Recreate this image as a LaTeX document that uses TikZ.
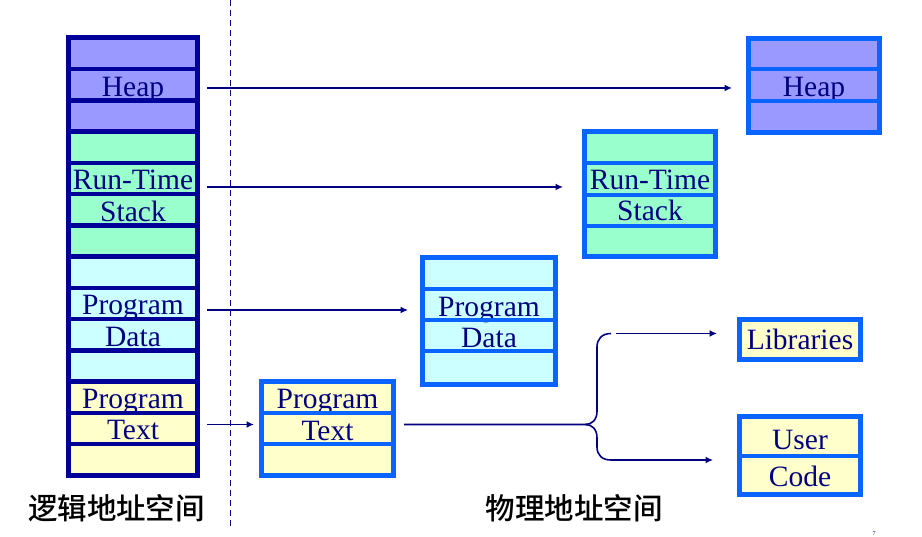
\documentclass[tikz,border=0pt]{standalone}
\usepackage{fontspec}
\setmainfont{Liberation Serif}
\newfontfamily\cjk{Noto Sans CJK SC Medium}
\usetikzlibrary{arrows.meta}
\definecolor{heapc}{HTML}{9999FF}
\definecolor{stackc}{HTML}{99FFCC}
\definecolor{datac}{HTML}{CCFFFF}
\definecolor{textc}{HTML}{FFFFCC}
\definecolor{navy}{HTML}{000099}
\definecolor{txtc}{HTML}{000080}
\definecolor{bright}{HTML}{0A64FF}
\begin{document}
\begin{tikzpicture}[x=1pt,y=-1pt,
  lbl/.style={font=\fontsize{29.5}{30}\selectfont, text=txtc, anchor=base, inner sep=0pt},
  cjklbl/.style={font=\cjk\fontsize{29.5}{30}\selectfont, text=black, inner sep=0pt},
  rbox/.style={draw=bright, line width=5pt, inner sep=0pt, fill=none},
  lsep/.style={navy, line width=4.5pt},
  rsep/.style={bright, line width=4.5pt},
  conn/.style={draw=txtc, line width=1.6pt},
  arr/.style={conn, -{Latex[length=7.5pt,width=7pt]}}]
\useasboundingbox (0,0) rectangle (922,537);

% dashed divider
\coordinate (dtop) at (230.5,0);
\coordinate (dbot) at (230.5,527);
\draw[txtc, line width=1pt, dash pattern=on 6pt off 4pt] (dtop) -- (dbot);

% ---------- left column ----------
\foreach \i/\c in {0/heapc,1/heapc,2/heapc,3/stackc,4/stackc,5/stackc,6/stackc,
                   7/datac,8/datac,9/datac,10/datac,11/textc,12/textc,13/textc}
  \fill[\c] (68.5,{37.8+\i*31.26}) rectangle (197.5,{37.8+(\i+1)*31.26});
\node[lbl] (lheap) at (133,96.7) {Heap};
\node[lbl] (lrun) at (133,189.3) {Run-Time};
\node[lbl] (lstack) at (133,221.7) {Stack};
\node[lbl] (lprog1) at (133,315) {Program};
\node[lbl] (ldata) at (133,346.7) {Data};
\node[lbl] (lprog2) at (133,408.3) {Program};
\node[lbl] (ltext) at (133,440) {Text};
\foreach \i in {1,...,13}
  \draw[lsep] (68.5,{37.8+\i*31.26}) -- (197.5,{37.8+\i*31.26});
\node[draw=navy, line width=5pt, inner sep=0pt, minimum width=129pt, minimum height=437.6pt] (lcol) at (133,256.6) {};

% ---------- right heap ----------
\fill[heapc] (748.5,38.5) rectangle (879.5,132.5);
\node[lbl] (rheapt) at (814,97) {Heap};
\foreach \y in {69,101} \draw[rsep] (748.5,\y) -- (879.5,\y);
\node[rbox, minimum width=131pt, minimum height=94pt] (rheap) at (814,85.5) {};

% ---------- right stack ----------
\fill[stackc] (584.5,131.5) rectangle (715.5,256.5);
\node[lbl] (rrun) at (650,189.5) {Run-Time};
\node[lbl] (rstackt) at (650,220.5) {Stack};
\foreach \y in {163,195,226} \draw[rsep] (584.5,\y) -- (715.5,\y);
\node[rbox, minimum width=131pt, minimum height=125pt] (rstack) at (650,194) {};

% ---------- right data ----------
\fill[datac] (422.5,257.5) rectangle (555.5,384.5);
\node[lbl] (rprog1) at (489,316.7) {Program};
\node[lbl] (rdatat) at (489,348) {Data};
\foreach \y in {289,320,351} \draw[rsep] (422.5,\y) -- (555.5,\y);
\node[rbox, minimum width=133pt, minimum height=127pt] (rdata) at (489,321) {};

% ---------- right text ----------
\fill[textc] (261.5,381.5) rectangle (393.5,475.5);
\node[lbl] (rprog2) at (327.5,409) {Program};
\node[lbl] (rtextt) at (327.5,440.7) {Text};
\foreach \y in {413,444} \draw[rsep] (261.5,\y) -- (393.5,\y);
\node[rbox, minimum width=132pt, minimum height=94pt] (rtext) at (327.5,428.5) {};

% ---------- libraries ----------
\fill[textc] (739.5,319.5) rectangle (860.5,359.5);
\node[lbl] (libt) at (800,350) {Libraries};
\node[rbox, minimum width=121pt, minimum height=40pt] (lib) at (800,339.5) {};

% ---------- user code ----------
\fill[textc] (739.5,416.5) rectangle (860.5,494.5);
\node[lbl] (usert) at (800,450) {User};
\node[lbl] (codet) at (800,486.7) {Code};
\draw[rsep] (739.5,456) -- (860.5,456);
\node[rbox, minimum width=121pt, minimum height=78pt] (ucode) at (800,455.5) {};

% ---------- connectors ----------
\coordinate (a1) at (207,88);
\draw[arr, shorten >=14pt] (a1) -- (a1 -| rheap.west);
\coordinate (a2) at (207,187);
\draw[arr, shorten >=19pt] (a2) -- (a2 -| rstack.west);
\coordinate (a3) at (207,310);
\draw[arr, shorten >=12pt] (a3) -- (a3 -| rdata.west);
\coordinate (a4) at (207,424.5);
\draw[arr, shorten >=5pt] (a4) -- (a4 -| rtext.west);

\coordinate (b0) at (404,424.5);
\coordinate (btip) at (585,424.5);
\coordinate (btop) at (616,333.5);
\coordinate (bbot) at (611,460);
\draw[conn] (b0) -- (btip) .. controls (592,424.5) and (597,420) .. (597,411)
  -- (597,347) .. controls (597,339) and (602,333.5) .. (611,333.5);
\draw[arr, shorten >=20pt] (btop) -- (btop -| lib.west);
\draw[conn] (btip) .. controls (592,424.5) and (597,429) .. (597,438)
  -- (597,447) .. controls (597,455) and (602,460) .. (bbot);
\draw[arr, shorten >=24pt] (bbot) -- (bbot -| ucode.west);

% ---------- captions ----------
\node[cjklbl] (cap1) at (116.5,508.5) {逻辑地址空间};
\node[cjklbl] (cap2) at (574,508.5) {物理地址空间};
\node[font=\fontsize{6}{6}\selectfont, text=txtc, inner sep=0pt, anchor=south] (pg) at (874,535.5) {7};
\end{tikzpicture}
\end{document}
